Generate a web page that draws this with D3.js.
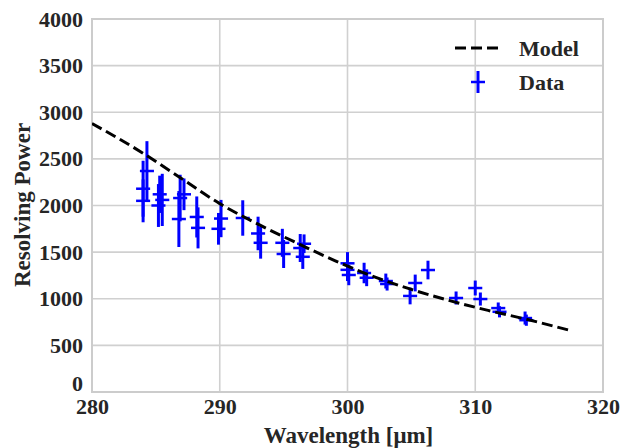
<!DOCTYPE html>
<html><head><meta charset="utf-8">
<script src="https://cdn.jsdelivr.net/npm/d3@7"></script>
<style>
html,body{margin:0;padding:0;background:#fff;}
text{font-family:"Liberation Serif","Times New Roman",serif;font-weight:bold;fill:#262626;}
</style></head>
<body>
<svg id="c" width="620" height="448"></svg>
<script>
// Model curve samples (wavelength, resolving power)
const modelWave = [280, 284, 287, 290, 293, 296, 299, 302, 305, 308, 311, 314, 317.3];
const modelPower = [2880, 2560, 2290, 2020, 1800, 1600, 1410, 1240, 1100, 980, 875, 780, 665];

// Data points
const dataWave = [284.0, 284.0, 284.3, 285.2, 285.3, 285.5, 286.8, 286.9, 287.2, 288.2, 288.3,
  289.9, 290.1, 291.8, 293.0, 293.2, 294.9, 295.0, 296.3, 296.5, 296.6,
  300.0, 300.0, 300.1, 301.3, 301.5, 303.0, 303.1, 304.9, 305.3, 306.3,
  308.5, 310.0, 310.4, 311.8, 311.9, 313.9, 314.0];
const dataPower = [2180, 2050, 2370, 2000, 2120, 2060, 1855, 2080, 2120, 1877, 1760,
  1750, 1860, 1866, 1700, 1600, 1600, 1480, 1544, 1450, 1590,
  1380, 1310, 1255, 1276, 1225, 1190, 1158, 1030, 1169, 1308,
  1008, 1115, 997, 900, 860, 793, 770];
const powerErr = [300, 230, 320, 230, 200, 280, 300, 250, 170, 220, 220,
  170, 200, 190, 180, 170, 150, 150, 150, 130, 100,
  120, 120, 110, 110, 90, 80, 70, 90, 90, 100,
  70, 80, 70, 60, 60, 70, 60];
const waveErr = [0.55, 0.55, 0.55, 0.55, 0.55, 0.55, 0.55, 0.55, 0.55, 0.55, 0.55,
  0.55, 0.55, 0.55, 0.55, 0.55, 0.55, 0.55, 0.55, 0.55, 0.55,
  0.55, 0.55, 0.55, 0.55, 0.55, 0.55, 0.55, 0.55, 0.55, 0.55,
  0.55, 0.55, 0.55, 0.55, 0.55, 0.55, 0.55];

const xTicks = [280, 290, 300, 310, 320];
const yTicks = [0, 500, 1000, 1500, 2000, 2500, 3000, 3500, 4000];

const svg = d3.select("#c");
const L = 92, R = 603, T = 19, B = 392;
const x = d3.scaleLinear().domain([280, 320]).range([L, R]);
const y = d3.scaleLinear().domain([0, 4000]).range([B, T]);

// grid
const grid = svg.append("g");
grid.selectAll(".gx").data(xTicks).enter().append("line")
  .attr("x1", d => x(d)).attr("x2", d => x(d)).attr("y1", T).attr("y2", B)
  .attr("stroke", "#d0d0d0").attr("stroke-width", 1.6);
grid.selectAll(".gy").data(yTicks).enter().append("line")
  .attr("y1", d => y(d)).attr("y2", d => y(d)).attr("x1", L).attr("x2", R)
  .attr("stroke", "#d0d0d0").attr("stroke-width", 1.6);
svg.append("rect").attr("x", L).attr("y", T).attr("width", R - L).attr("height", B - T)
  .attr("fill", "none").attr("stroke", "#cccccc").attr("stroke-width", 2);

// axes
const xAxis = svg.append("g").attr("transform", `translate(0,${B})`)
  .call(d3.axisBottom(x).tickValues(xTicks).tickSize(0).tickPadding(6).tickFormat(d3.format("d")));
const yAxis = svg.append("g").attr("transform", `translate(${L},0)`)
  .call(d3.axisLeft(y).tickValues(yTicks).tickSize(0).tickPadding(9).tickFormat(d3.format("d")));
[xAxis, yAxis].forEach(a => {
  a.select(".domain").remove();
  a.selectAll("text").style("font-size", "22px").attr("fill", "#262626")
    .style("font-family", "'Liberation Serif', serif").style("font-weight", "bold");
});
yAxis.selectAll(".tick").filter(d => d === 0).select("text").attr("dy", "-0.05em");

svg.append("text").attr("x", (L + R) / 2 + 1).attr("y", 443).attr("text-anchor", "middle")
  .style("font-size", "23px").text("Wavelength [μm]");
svg.append("text").attr("transform", "translate(30,205) rotate(-90)").attr("text-anchor", "middle")
  .style("font-size", "23px").text("Resolving Power");

// clip
svg.append("clipPath").attr("id", "clip").append("rect")
  .attr("x", L).attr("y", T).attr("width", R - L).attr("height", B - T);

// data error bars
const data = dataWave.map((w, i) => ({w, p: dataPower[i], pe: powerErr[i], we: waveErr[i]}));
const eb = svg.append("g").attr("stroke", "#0000ff");
eb.selectAll(".v").data(data).enter().append("line")
  .attr("x1", d => x(d.w)).attr("x2", d => x(d.w))
  .attr("y1", d => y(d.p - d.pe)).attr("y2", d => y(d.p + d.pe)).attr("stroke-width", 3);
eb.selectAll(".h").data(data).enter().append("line")
  .attr("x1", d => x(d.w - d.we)).attr("x2", d => x(d.w + d.we))
  .attr("y1", d => y(d.p)).attr("y2", d => y(d.p)).attr("stroke-width", 2.5);

// model
const model = modelWave.map((w, i) => [w, modelPower[i]]);
svg.append("path").datum(model)
  .attr("d", d3.line().x(d => x(d[0])).y(d => y(d[1])).curve(d3.curveMonotoneX))
  .attr("fill", "none").attr("stroke", "#000").attr("stroke-width", 3)
  .attr("stroke-dasharray", "11,5").attr("clip-path", "url(#clip)");

// legend
const lg = svg.append("g");
lg.append("line").attr("x1", 455).attr("x2", 501).attr("y1", 48).attr("y2", 48)
  .attr("stroke", "#000").attr("stroke-width", 3).attr("stroke-dasharray", "11,5");
lg.append("text").attr("x", 519).attr("y", 56).style("font-size", "22px").text("Model");
lg.append("line").attr("x1", 478).attr("x2", 478).attr("y1", 71).attr("y2", 93)
  .attr("stroke", "#0000ff").attr("stroke-width", 3);
lg.append("line").attr("x1", 471).attr("x2", 485).attr("y1", 82).attr("y2", 82)
  .attr("stroke", "#0000ff").attr("stroke-width", 2.5);
lg.append("text").attr("x", 519).attr("y", 90).style("font-size", "22px").text("Data");
</script>
</body></html>
